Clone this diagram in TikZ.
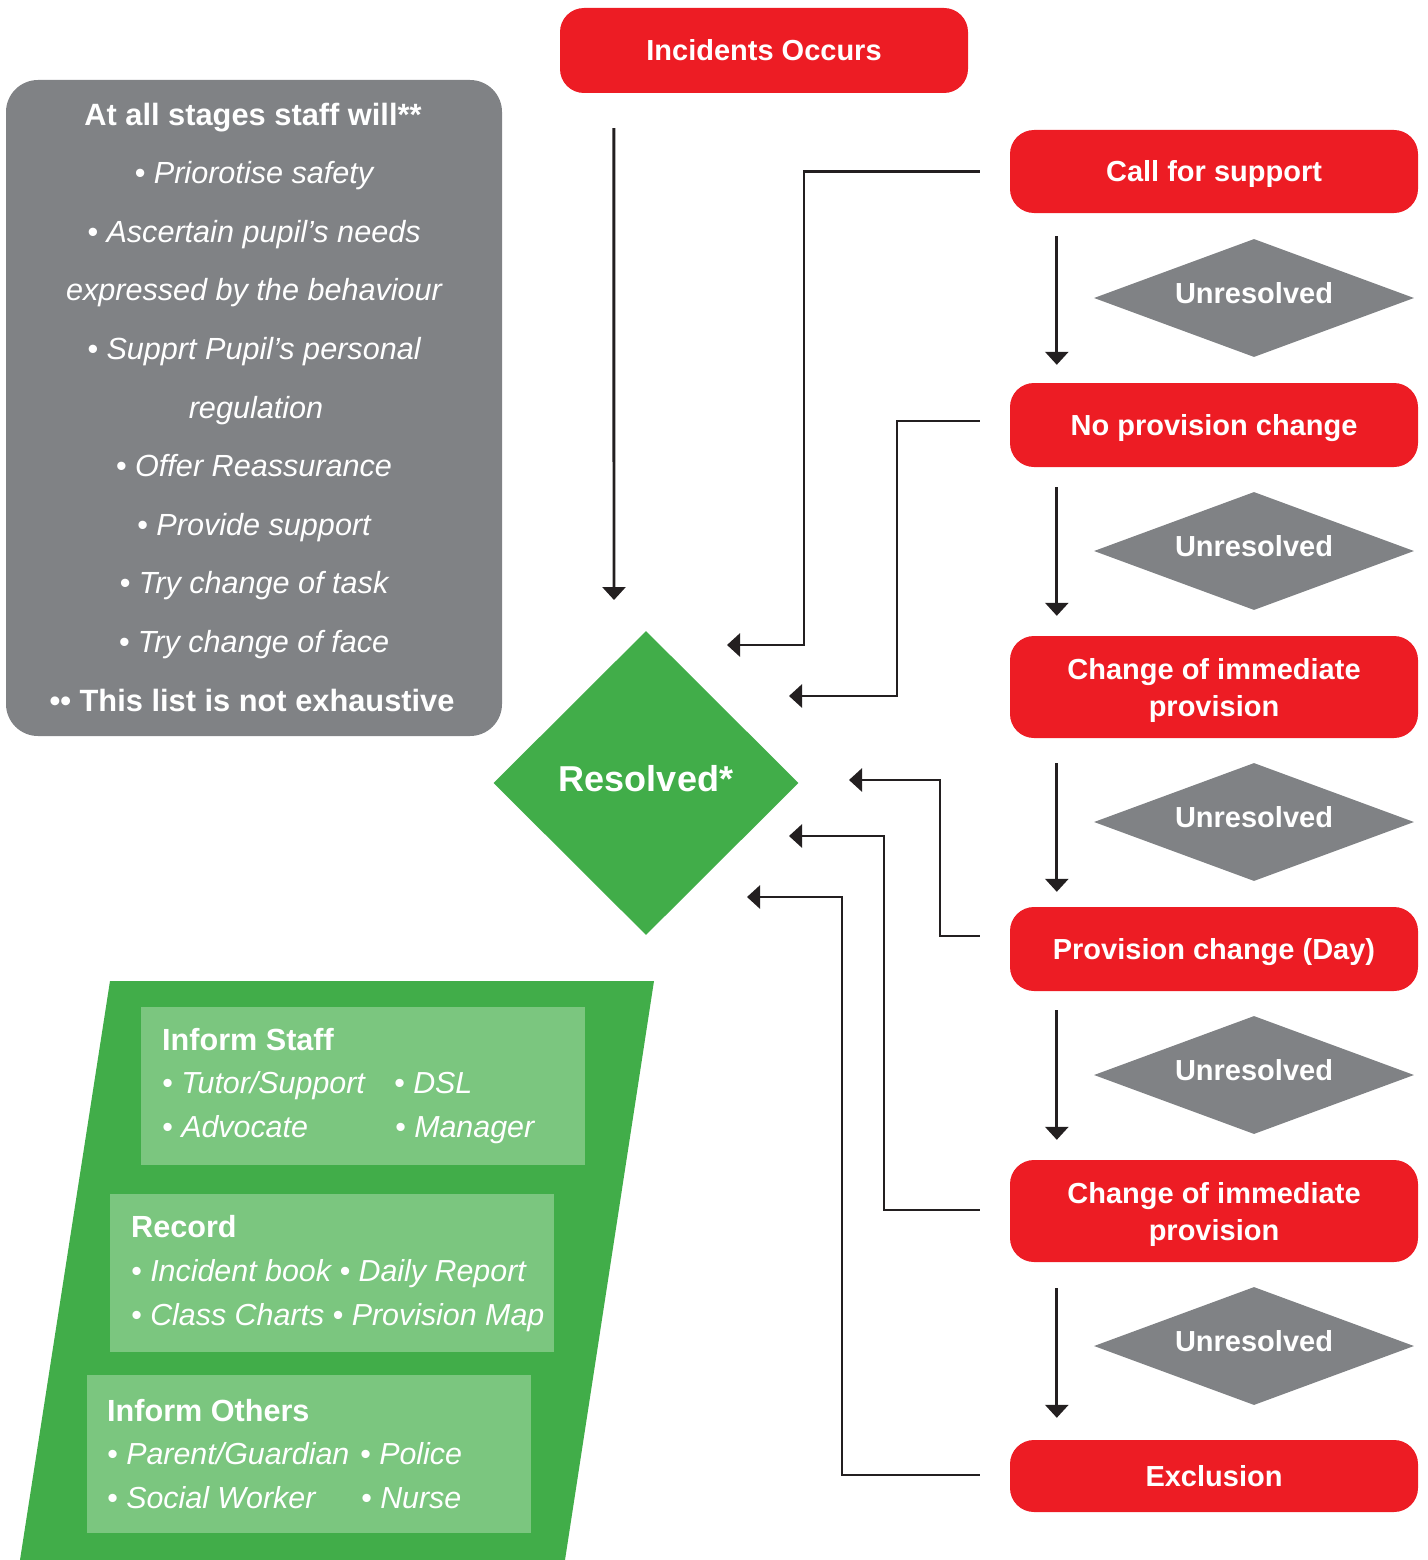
\documentclass[tikz,border=0pt]{standalone}
\usepackage{fontspec}
\setmainfont{Liberation Sans}
\usetikzlibrary{shapes.geometric,arrows.meta,calc}
\definecolor{cred}{HTML}{ED1C24}
\definecolor{cgray}{HTML}{808285}
\definecolor{cgreen}{HTML}{41AD49}
\definecolor{clgreen}{HTML}{7BC67F}
\definecolor{cline}{HTML}{231F20}
\tikzset{
  redbox/.style={fill=cred, rounded corners=24pt, minimum width=408pt, text=white,
    font=\bfseries\fontsize{29}{37}\selectfont, align=center, inner sep=0pt},
  oneline/.style={text height=21pt, text depth=1pt},
  unres/.style={diamond, aspect=2.712, fill=cgray, minimum width=320pt, minimum height=118pt,
    inner sep=0pt, text=white, font=\bfseries\fontsize{29}{35}\selectfont,
    text height=21pt, text depth=11pt},
  arr/.style={draw=cline, line width=2.9pt, -{Triangle[length=13pt,width=23pt]}},
  glist/.style={text=white, inner sep=0pt, anchor=base, font=\itshape\fontsize{30.6}{36}\selectfont},
  glistb/.style={text=white, inner sep=0pt, anchor=base, font=\bfseries\fontsize{30.8}{36}\selectfont},
  lgbox/.style={fill=clgreen, minimum width=444pt, minimum height=158pt, inner sep=0pt},
  lgtitle/.style={text=white, inner sep=0pt, anchor=base west, font=\bfseries\fontsize{30.6}{36}\selectfont},
  lgitem/.style={text=white, inner sep=0pt, anchor=base west, font=\itshape\fontsize{30.4}{36}\selectfont}
}
\begin{document}
\begin{tikzpicture}[x=1pt,y=-1pt]
\useasboundingbox (0,0) rectangle (1427,1560);

% grey box of staff actions
\node[fill=cgray, rounded corners=32pt, minimum width=496pt, minimum height=656pt, inner sep=0pt] (staff) at (254,408) {};
\node[glistb] (g1) at (253,125) {At all stages staff will**};
\node[glist] (g2) at (254,183.6) {• Priorotise safety};
\node[glist] (g3) at (254,242.2) {• Ascertain pupil’s needs};
\node[glist] (g4) at (254,300.8) {expressed by the behaviour};
\node[glist] (g5) at (254,359.4) {• Supprt Pupil’s personal};
\node[glist] (g6) at (256,418) {regulation};
\node[glist] (g7) at (254,476.6) {• Offer Reassurance};
\node[glist] (g8) at (254,535.2) {• Provide support};
\node[glist] (g9) at (254,593.8) {• Try change of task};
\node[glist] (g10) at (254,652.4) {• Try change of face};
\node[glistb] (g11) at (252,711) {•• This list is not exhaustive};

% green panel
\fill[cgreen] (110,981) -- (654,981) -- (565,1560) -- (20,1560) -- cycle;
\node[lgbox] (staffbox) at (363,1086) {};
\node[lgbox] (recbox) at (332,1273) {};
\node[lgbox] (othbox) at (309,1454) {};
\node[lgtitle] (s1) at (162,1050) {Inform Staff};
\node[lgitem] (s2) at (162,1093) {• Tutor/Support};
\node[lgitem] (s3) at (162,1137) {• Advocate};
\node[lgitem] (s4) at (394,1093) {• DSL};
\node[lgitem] (s5) at (395,1137) {• Manager};
\node[lgtitle] (r1) at (131,1237) {Record};
\node[lgitem] (r2) at (131,1281) {• Incident book • Daily Report};
\node[lgitem] (r3) at (131,1325) {• Class Charts • Provision Map};
\node[lgtitle] (o1) at (107,1421) {Inform Others};
\node[lgitem] (o2) at (107,1464) {• Parent/Guardian};
\node[lgitem] (o3) at (107,1508) {• Social Worker};
\node[lgitem] (o4) at (360,1464) {• Police};
\node[lgitem] (o5) at (361,1508) {• Nurse};

% red boxes
\node[redbox, oneline, minimum height=85pt] (inc) at (764,50.5) {Incidents Occurs};
\node[redbox, oneline, minimum height=83pt] (call) at (1214,171.5) {Call for support};
\node[redbox, oneline, minimum height=84pt] (nopro) at (1214,425) {No provision change};
\node[redbox, minimum height=102pt] (chg1) at (1214,687) {\rule{0pt}{27.5pt}Change of immediate\\provision};
\node[redbox, oneline, minimum height=84pt] (day) at (1214,949) {Provision change (Day)};
\node[redbox, minimum height=102pt] (chg2) at (1214,1211) {\rule{0pt}{27.5pt}Change of immediate\\provision};
\node[redbox, oneline, minimum height=72pt] (excl) at (1214,1476) {Exclusion};

% unresolved diamonds
\node[unres] (u1) at (1254,298) {Unresolved};
\node[unres] (u2) at (1254,551) {Unresolved};
\node[unres] (u3) at (1254,822) {Unresolved};
\node[unres] (u4) at (1254,1075) {Unresolved};
\node[unres] (u5) at (1254,1346) {Unresolved};

% resolved diamond
\node[diamond, fill=cgreen, minimum width=305pt, minimum height=304pt, inner sep=0pt,
  text=white, font=\bfseries\fontsize{36}{40}\selectfont, text height=26pt, text depth=10pt] (res) at (646,783) {Resolved*};

% down arrows
\coordinate (t0) at (614,600);
\draw[arr] ([shift={(54,35)}]inc.south west) -- (t0);
\draw[arr] ([shift={(47,23)}]call.south west) -- ([shift={(47,-18)}]nopro.north west);
\draw[arr] ([shift={(47,20)}]nopro.south west) -- ([shift={(47,-20)}]chg1.north west);
\draw[arr] ([shift={(47,25)}]chg1.south west) -- ([shift={(47,-15)}]day.north west);
\draw[arr] ([shift={(47,19)}]day.south west) -- ([shift={(47,-20)}]chg2.north west);
\draw[arr] ([shift={(47,26)}]chg2.south west) -- ([shift={(47,-22)}]excl.north west);

% feedback connectors to resolved
\coordinate (k1) at (804,645); \coordinate (t1) at (727,645);
\coordinate (k2) at (897,696); \coordinate (t2) at (789,696);
\coordinate (k3) at (940,780); \coordinate (t3) at (849,780);
\coordinate (k4) at (884,836); \coordinate (t4) at (789,836);
\coordinate (k5) at (842,897); \coordinate (t5) at (747,897);
\draw[arr] ([xshift=-30pt]call.west) -| (k1) -- (t1);
\draw[arr] ([shift={(-30,-4)}]nopro.west) -| (k2) -- (t2);
\draw[arr] ([shift={(-30,-13)}]day.west) -| (k3) -- (t3);
\draw[arr] ([shift={(-30,-1)}]chg2.west) -| (k4) -- (t4);
\draw[arr] ([shift={(-30,-1)}]excl.west) -| (k5) -- (t5);
\end{tikzpicture}
\end{document}
